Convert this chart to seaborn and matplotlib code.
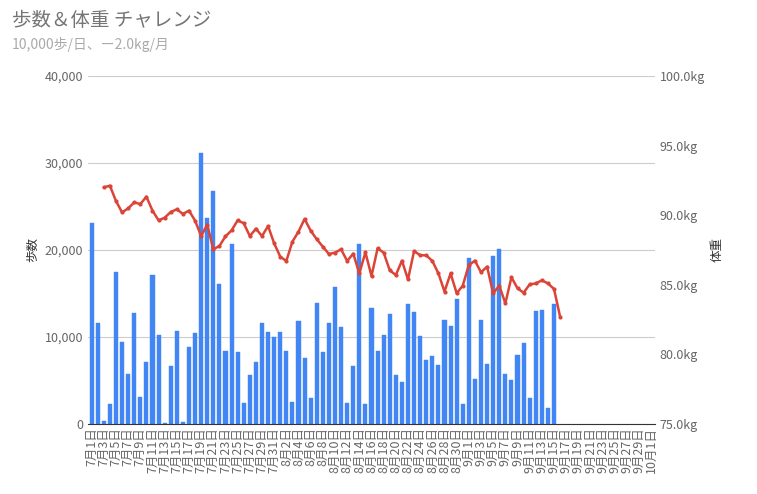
import numpy as np
import pandas as pd
import matplotlib
matplotlib.use("Agg")
import matplotlib.pyplot as plt
import seaborn as sns
import datetime as dt

sns.set_style("white")
plt.rcParams['font.family'] = ['Noto Sans CJK JP', 'DejaVu Sans']

start = dt.date(2018, 7, 1)
dates = [start + dt.timedelta(days=i) for i in range(93)]
categories = [f"{d.month}月{d.day}日" for d in dates]

steps = [23140, 11650, 380, 2260, 17500, 9390, 5710, 12720, 3070, 7090,
         17090, 10190, 115, 6700, 10650, 230, 8890, 10500, 31190, 23640,
         26820, 16130, 8350, 20650, 8240, 2380, 5590, 7090, 11650, 10610,
         9960, 10610, 8430, 2570, 11880, 7620, 2950, 13870, 8240, 11570,
         15790, 11190, 2450, 6700, 20650, 2300, 13370, 8430, 10270, 12680,
         5670, 4870, 13830, 12910, 10150, 7320, 7850, 6780, 11990, 11300,
         14410, 2340, 19120, 5210, 11990, 6930, 19350, 20080, 5790, 5020,
         7970, 9270, 3030, 13030, 13140, 1800, 13830]

weight = [np.nan, np.nan, 92.0, 92.12, 91.02, 90.2, 90.49, 90.92, 90.8, 91.33,
          90.33, 89.63, 89.82, 90.23, 90.42, 90.09, 90.33, 89.61, 88.5, 89.32,
          87.55, 87.79, 88.48, 88.91, 89.63, 89.42, 88.5, 89.03, 88.5, 89.22,
          87.98, 87.02, 86.71, 88.1, 88.82, 89.73, 88.89, 88.27, 87.74, 87.21,
          87.31, 87.55, 86.71, 87.24, 85.82, 87.33, 85.63, 87.62, 87.31, 86.04,
          85.7, 86.73, 85.39, 87.43, 87.12, 87.12, 86.71, 85.82, 84.51, 85.82,
          84.39, 84.94, 86.42, 86.73, 85.9, 86.3, 84.39, 84.94, 83.67, 85.54,
          84.75, 84.43, 85.03, 85.1, 85.32, 85.1, 84.7, 82.71]

n = len(categories)
steps_full = steps + [np.nan] * (n - len(steps))
weight_full = weight + [np.nan] * (n - len(weight))
df = pd.DataFrame({"date": categories, "steps": steps_full, "weight": weight_full, "pos": np.arange(n)})

fig = plt.figure(figsize=(7.57, 4.94), dpi=100)
ax = fig.add_axes([88/757, 70/494, (655-88)/757, (424-76)/494])
sns.barplot(data=df, x="date", y="steps", order=categories, color="#4285f4",
            saturation=1, width=0.68, ax=ax)
for p in ax.patches:
    p.set_edgecolor("#4285f4")
    p.set_linewidth(0.3)
ax.set_ylim(0, 40000)
ax.set_xlim(-0.6, n - 0.4)
ax.set_yticks([0, 10000, 20000, 30000, 40000])
ax.set_yticklabels(["0", "10,000", "20,000", "30,000", "40,000"])
ax.yaxis.grid(True, color="#cccccc", lw=0.8)
ax.set_axisbelow(True)
ax.set_xticks(range(0, n, 2))
ax.set_xticklabels(categories[::2], rotation=90, fontsize=9, color="#666666")
ax.tick_params(axis="y", labelsize=9, colors="#666666", length=0)
ax.tick_params(axis="x", length=0, pad=2)
ax.set_xlabel("")
ax.set_ylabel("歩数", fontsize=9, color="#333333")
for s in ["top", "right", "left"]:
    ax.spines[s].set_visible(False)
ax.spines["bottom"].set_color("#333333")

ax2 = ax.twinx()
sns.lineplot(data=df, x="pos", y="weight", color="#db4437", lw=1.8, marker="o",
             markersize=3, markeredgewidth=0, ax=ax2)
ax2.set_ylim(75, 100)
ax2.set_xlim(-0.6, n - 0.4)
ax2.set_yticks([75, 80, 85, 90, 95, 100])
ax2.set_yticklabels([f"{v:.1f}kg" for v in [75, 80, 85, 90, 95, 100]])
ax2.tick_params(axis="y", labelsize=9, colors="#666666", length=0)
ax2.set_ylabel("体重", fontsize=9, color="#333333")
ax2.set_xlabel("")
for s in ["top", "right", "left", "bottom"]:
    ax2.spines[s].set_visible(False)

fig.text(12/757, 1 - 20/494, "歩数＆体重 チャレンジ", fontsize=14, color="#757575", va="center")
fig.text(12/757, 1 - 44/494, "10,000歩/日、ー2.0kg/月", fontsize=10, color="#aaaaaa", va="center")

fig.savefig("out.png", dpi=100)
